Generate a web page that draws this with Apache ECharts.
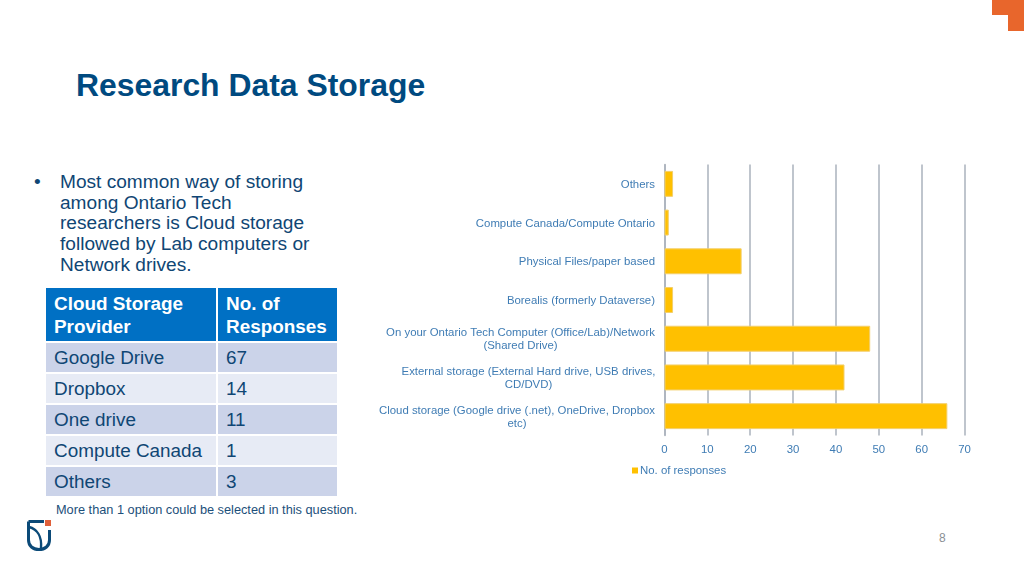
<!DOCTYPE html>
<html>
<head>
<meta charset="utf-8">
<style>
  html, body { margin: 0; width: 1024px; height: 576px; overflow: hidden; background: #fff; font-family: "Liberation Sans", Arial, sans-serif; }
  .abs { position: absolute; }
  #title { left: 76px; top: 66px; font-size: 31.9px; line-height: 38px; font-weight: bold; color: #004a80; }
  #bullet { left: 60px; top: 172px; width: 270px; font-size: 19.1px; line-height: 20.7px; color: #0f4674; }
  #dot { left: 34px; top: 172px; font-size: 19.1px; line-height: 20.7px; color: #0f4674; }
  #note { left: 56px; top: 502px; font-size: 12.75px; line-height: 15px; color: #1c4f7a; white-space: nowrap; }
  #page { left: 939px; top: 531px; font-size: 12px; line-height: 15px; color: #8a8f94; }
  #table { left: 46px; top: 288px; width: 291px; border-collapse: collapse; table-layout: fixed; font-size: 18.9px; color: #0f4674; }
  #table td, #table th { padding: 0 0 0 8px; border: 1px solid #fff; border-width: 0 0 2px 2px; text-align: left; line-height: 23px; height: 29px; box-sizing: content-box; }
  #table td:first-child, #table th:first-child { border-left: 0; }
  #table th { background: #0070c4; color: #fff; height: 53px; }
  #table tr.a td { background: #cbd3e9; }
  #table tr.b td { background: #e7ebf5; }
  #chart { left: 360px; top: 150px; width: 640px; height: 340px; }
</style>
</head>
<body>
<div class="abs" style="left:992px;top:0;width:32px;height:15px;background:#e8662c"></div>
<div class="abs" style="left:1008px;top:15px;width:16px;height:16px;background:#e8662c"></div>
<div class="abs" id="title">Research Data Storage</div>
<div class="abs" id="dot">•</div>
<div class="abs" id="bullet">Most common way of storing among Ontario Tech researchers is Cloud storage followed by Lab computers or Network drives.</div>
<table class="abs" id="table"></table>
<div class="abs" id="note">More than 1 option could be selected in this question.</div>
<div class="abs" id="page">8</div>
<svg class="abs" style="left:25px;top:518px" width="28" height="35" viewBox="0 0 28 35">
  <path d="M3.5 3.5 H19 M3.5 3.5 V22 C3.5 28 8 31.5 14 31.5 C20 31.5 24.5 28 24.5 22 V12" fill="none" stroke="#0b4a78" stroke-width="3"/>
  <path d="M4 9 C12 11 17 18 16 30" fill="none" stroke="#0b4a78" stroke-width="2.4"/>
  <rect x="20" y="2" width="6" height="6" fill="#e0603a"/>
</svg>
<div class="abs" id="chart"></div>
<script src="https://cdn.jsdelivr.net/npm/echarts@6/dist/echarts.min.js"></script>
<script>
// bar chart, listed bottom to top
var categories = [
  'Cloud storage (Google drive (.net), OneDrive, Dropbox\netc)',
  'External storage (External Hard drive, USB drives,\nCD/DVD)',
  'On your Ontario Tech Computer (Office/Lab)/Network\n(Shared Drive)',
  'Borealis (formerly Dataverse)',
  'Physical Files/paper based',
  'Compute Canada/Compute Ontario',
  'Others'
];
var responses = [66, 42, 48, 2, 18, 1, 2];
var seriesName = 'No. of responses';

// table on the left
var tableHeader = ['Cloud Storage<br>Provider', 'No. of<br>Responses'];
var providers = ['Google Drive', 'Dropbox', 'One drive', 'Compute Canada', 'Others'];
var providerCounts = [67, 14, 11, 1, 3];

var html = '<colgroup><col style="width:171px"><col style="width:120px"></colgroup>';
html += '<tr><th>' + tableHeader[0] + '</th><th>' + tableHeader[1] + '</th></tr>';
providers.forEach(function (p, i) {
  html += '<tr class="' + (i % 2 ? 'b' : 'a') + '"><td>' + p + '</td><td>' + providerCounts[i] + '</td></tr>';
});
document.getElementById('table').innerHTML = html;

var labelColor = '#3f7cb4';
var labelSize = 11.4;
var myChart = echarts.init(document.getElementById('chart'));
myChart.setOption({
  animation: false,
  textStyle: { fontFamily: 'Liberation Sans' },
  grid: { left: 304.5, top: 14.5, width: 300, height: 271 },
  legend: {
    left: 272, top: 315, padding: 0,
    icon: 'rect', itemWidth: 6, itemHeight: 6, itemGap: 2,
    itemStyle: { borderWidth: 0 },
    textStyle: { color: labelColor, fontSize: labelSize, padding: [0, 0, 0, -3] },
    data: [seriesName]
  },
  xAxis: {
    type: 'value', min: 0, max: 70, interval: 10,
    axisLine: { show: false },
    axisTick: { show: false },
    axisLabel: { color: labelColor, fontSize: labelSize, margin: 9 },
    splitLine: { show: true, lineStyle: { color: '#aab2bc', width: 1.5 } }
  },
  yAxis: {
    type: 'category',
    data: categories,
    axisLine: { show: true, lineStyle: { color: '#aab2bc', width: 1.5 } },
    axisTick: { show: false },
    axisLabel: {
      color: labelColor, fontSize: labelSize, margin: 9.5, lineHeight: 13,
      padding: [2, 0, 0, 0],
      formatter: function (value) {
        var lines = value.split('\n');
        if (lines.length === 1) return value;
        var style = 'w' + categories.indexOf(value);
        return lines.map(function (l) { return '{' + style + '|' + l + '}'; }).join('\n');
      },
      rich: {
        w0: { width: 276, align: 'center', fontSize: labelSize, lineHeight: 13, color: labelColor },
        w1: { width: 253, align: 'center', fontSize: labelSize, lineHeight: 13, color: labelColor },
        w2: { width: 269, align: 'center', fontSize: labelSize, lineHeight: 13, color: labelColor }
      }
    }
  },
  series: [{
    name: seriesName,
    type: 'bar',
    data: responses,
    barWidth: '67%',
    itemStyle: { color: '#ffc000', borderColor: '#f3cf6a', borderWidth: 1 }
  }]
});
</script>
</body>
</html>
